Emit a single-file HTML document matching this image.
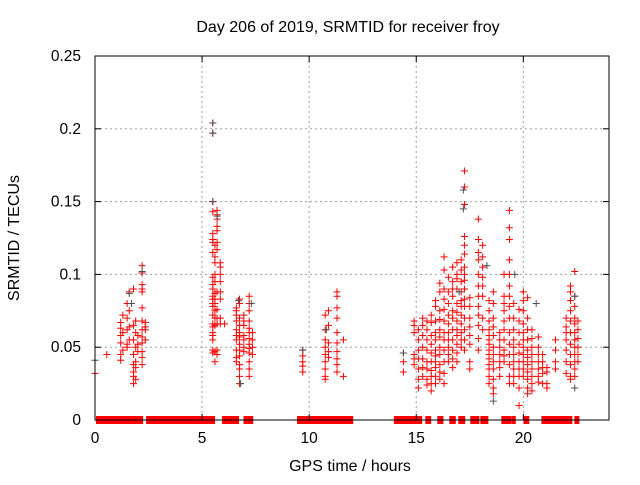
<!DOCTYPE html>
<html><head><meta charset="utf-8"><style>
body{margin:0;background:#fff;}
svg text{font-family:"Liberation Sans",sans-serif;font-size:16px;fill:#000;}
svg text.tk{font-size:15.5px;}
</style></head><body>
<svg id="chart" width="640" height="480" xmlns="http://www.w3.org/2000/svg">
<text x="348" y="32" text-anchor="middle">Day 206 of 2019, SRMTID for receiver froy</text>
<text x="19" y="238" text-anchor="middle" transform="rotate(-90 19 238)">SRMTID / TECUs</text>
<text x="350" y="471" text-anchor="middle">GPS time / hours</text>
<g id="grid"></g>
<g id="zeros"></g>
<g id="red"></g>
<g id="gray"></g>
<rect x="95" y="56" width="514" height="364" fill="none" stroke="#000" stroke-width="1"/>
<g id="ticks"></g>
</svg>
<script>
const xTicks = [0,5,10,15,20];
const yTicks = [0,0.05,0.1,0.15,0.2,0.25];
const yTickLabels = ["0","0.05","0.1","0.15","0.2","0.25"];
const zeroStart = [0.09,1.36,1.59,1.82,1.96,2.43,5.98,6.98,7.15,9.48,9.77,10.75,11.28,11.96,14.0,15.05,15.47,16.03,16.59,16.68,16.78,17.01,17.57,18.04,19.02,19.49,19.58,20.05,20.89,21.33,21.57,22.43];
const zeroEnd   = [1.31,1.54,1.73,1.92,2.2,5.56,6.68,7.06,7.34,9.74,10.75,11.35,11.91,12.01,14.98,15.23,15.65,16.22,16.61,16.7,16.8,17.24,17.9,18.32,19.39,19.53,19.6,20.23,21.27,21.5,22.24,22.57];
const redHours = [0.0,0.55,1.2,1.3,1.5,1.6,1.8,1.9,2.0,2.2,2.35,
 5.5,5.6,5.7,5.85,6.05,6.6,6.75,6.95,7.2,7.35,9.7,10.75,10.9,11.3,11.6,14.4,
 14.9,15.1,15.3,15.5,15.7,15.9,16.1,16.3,16.5,16.7,16.9,17.1,17.25,17.5,17.9,18.1,18.4,18.6,18.9,19.1,19.35,19.55,19.8,20.0,20.2,20.4,20.7,20.9,21.1,21.5,22.0,22.2,22.4,22.55];
const redVals = [
 [.032],[.045],
 [.067,.063,.058,.053,.045,.041],[.072,.060,.048],[.080,.070,.062,.052,.050],[.088,.075,.064,.055],
 [.090,.065,.055,.045,.038,.033,.030,.025],[.068,.060,.050,.040,.036,.028],[.058,.052,.047],
 [.106,.101,.093,.090,.088,.077,.068,.062,.057,.053,.047,.043,.038],[.067,.064,.062,.055],
 [.204,.197,.150,.143,.128,.124,.122,.115,.098,.093,.090,.085,.083,.080,.078,.072,.066,.064,.060,.058,.055,.048,.046],
 [.120,.112,.108,.100,.095,.087,.083,.080,.075,.070,.065,.047,.040],
 [.144,.141,.138,.133,.130,.122,.117,.088,.076,.070,.066,.048,.045],
 [.108,.105,.100,.095,.088,.083,.070,.066],[.066],
 [.077,.075,.072,.068,.062,.058,.055,.048,.043,.040],
 [.083,.080,.070,.065,.060,.057,.052,.048,.044,.038,.035,.030,.025],
 [.072,.068,.065,.058,.055,.050,.047],
 [.085,.080,.075,.068,.063,.060,.056,.052,.049,.046,.040,.035,.030],
 [.060,.055,.050,.045],
 [.048,.044,.040,.037,.033],
 [.072,.062,.055,.050,.045,.040,.035,.030,.028],[.075,.065,.053,.047,.043],
 [.088,.085,.077,.070,.060,.053,.047,.042,.038,.033],[.055,.030],[.046,.040,.033],
 [.068,.065,.060,.045,.042,.038],
 [.062,.055,.048,.042,.035,.028,.022],
 [.070,.065,.058,.050,.042,.036,.030],
 [.068,.062,.055,.048,.040,.035,.028,.024],
 [.072,.067,.058,.052,.046,.040,.034,.030,.025,.020],
 [.082,.078,.068,.060,.055,.048,.044,.040,.036,.030,.025],
 [.094,.088,.075,.069,.062,.057,.050,.045,.038,.033,.028],
 [.112,.103,.090,.083,.076,.068,.060,.055,.048,.040,.032,.025],
 [.098,.088,.080,.072,.066,.060,.055,.050,.045,.040],
 [.105,.095,.090,.085,.075,.070,.062,.055,.048,.042,.036],
 [.108,.100,.097,.090,.080,.074,.068,.062,.058,.052,.046,.040],
 [.110,.103,.095,.088,.082,.078,.072,.066,.060,.055,.050],
 [.171,.160,.148,.126,.120,.114,.105,.100,.096,.090,.083,.078,.070,.062,.055,.048],
 [.084,.078,.070,.064,.058,.052,.040,.035],
 [.138,.124,.115,.110,.100,.092,.085,.078,.072,.065,.056,.048],
 [.120,.112,.105,.098,.092,.085,.070,.062],
 [.082,.075,.068,.062,.058,.055,.052,.048,.045,.042,.038,.035,.030,.025],
 [.088,.080,.070,.064,.058,.050,.045,.040,.035,.028,.022,.018],
 [.060,.055,.050,.045,.040,.036,.030],
 [.100,.085,.080,.075,.068,.062,.055,.048,.044,.040],
 [.144,.132,.124,.110,.100,.092,.085,.078,.070,.060,.052,.045,.038,.030,.025],
 [.080,.070,.062,.055,.050,.045,.040,.035,.030,.025],
 [.076,.068,.060,.052,.046,.040,.035,.030,.022,.010],
 [.088,.082,.075,.066,.060,.055,.050,.045,.040,.035,.030],
 [.084,.070,.062,.055,.048,.043,.038,.033,.028,.022,.018],
 [.062,.056,.050,.045,.040,.035,.030,.025,.020],
 [.057,.050,.045,.040,.035,.030,.026],
 [.045,.040,.036,.032,.025],
 [.036,.033,.025,.022],
 [.055,.048,.040,.035],
 [.070,.064,.060,.055,.048,.040,.032],
 [.092,.088,.082,.075,.068,.060,.052,.045,.038,.030,.028],
 [.102,.085,.078,.070,.066,.060,.055,.050,.045,.040,.035,.030],
 [.068,.062,.056,.050,.045,.040]
];
const grayHours = [0.0,1.6,1.7,2.2,5.5,5.5,5.5,5.7,6.7,6.8,7.3,9.7,10.8,14.4,17.0,17.2,17.2,18.3,18.6,19.6,20.6,22.4,22.4];
const grayVals  = [.041,.087,.080,.102,.204,.197,.150,.140,.082,.025,.080,.048,.062,.046,.088,.158,.145,.106,.013,.100,.080,.085,.022];

const NS='http://www.w3.org/2000/svg';
const X0=95,X1=609,Y0=420,Y1=56;
function xs(h){return X0+(h/24)*(X1-X0);}
function ys(v){return Y0-(v/0.25)*(Y0-Y1);}
function mk(tag,attrs,parent){const e=document.createElementNS(NS,tag);for(const k in attrs)e.setAttribute(k,attrs[k]);parent.appendChild(e);return e;}
const grid=document.getElementById('grid'),ticks=document.getElementById('ticks');
xTicks.forEach(function(t){
  const x=xs(t);
  if(t>0){const g=mk('line',{x1:x,x2:x,y1:Y1,y2:Y0,stroke:'#a0a0a0','stroke-dasharray':'2,3'},grid);
  
  }
  mk('line',{x1:x,x2:x,y1:Y0,y2:Y0-6,stroke:'#000'},ticks);
  mk('line',{x1:x,x2:x,y1:Y1,y2:Y1+6,stroke:'#000'},ticks);
  const l=mk('text',{x:x,y:Y0+23,'text-anchor':'middle','class':'tk'},ticks);l.textContent=t;
  
  
});
yTicks.forEach(function(t,i){
  const y=ys(t);
  if(t>0&&t<0.25){const g=mk('line',{x1:X0,x2:X1,y1:y,y2:y,stroke:'#a0a0a0','stroke-dasharray':'2,3'},grid);
  
  }
  mk('line',{x1:X0,x2:X0+6,y1:y,y2:y,stroke:'#000'},ticks);
  mk('line',{x1:X1,x2:X1-6,y1:y,y2:y,stroke:'#000'},ticks);
  const l=mk('text',{x:X0-14,y:y+5,'text-anchor':'end','class':'tk'},ticks);l.textContent=yTickLabels[i];
  
  
});
const zg=document.getElementById('zeros');
zeroStart.forEach(function(s,i){
  const r=mk('rect',{x:xs(s)-1,y:ys(0)-4,width:xs(zeroEnd[i])-xs(s)+2,height:8,fill:'#ff0000'},zg);
  
  
});
function cross(g,h,v,col,name){
  const x=xs(h),y=ys(v);
  const p=mk('path',{d:'M'+(x-3.5)+' '+y+'H'+(x+3.5)+'M'+x+' '+(y-3.5)+'V'+(y+3.5),stroke:col,'stroke-width':1,fill:'none'},g);
  
  
}
const rg=document.getElementById('red');
redHours.forEach(function(h,i){redVals[i].forEach(function(v){cross(rg,h,v,'#ff0000','red-point');});});
const gg=document.getElementById('gray');
grayHours.forEach(function(h,i){cross(gg,h,grayVals[i],'#505050','gray-point');});
</script>
</body></html>
